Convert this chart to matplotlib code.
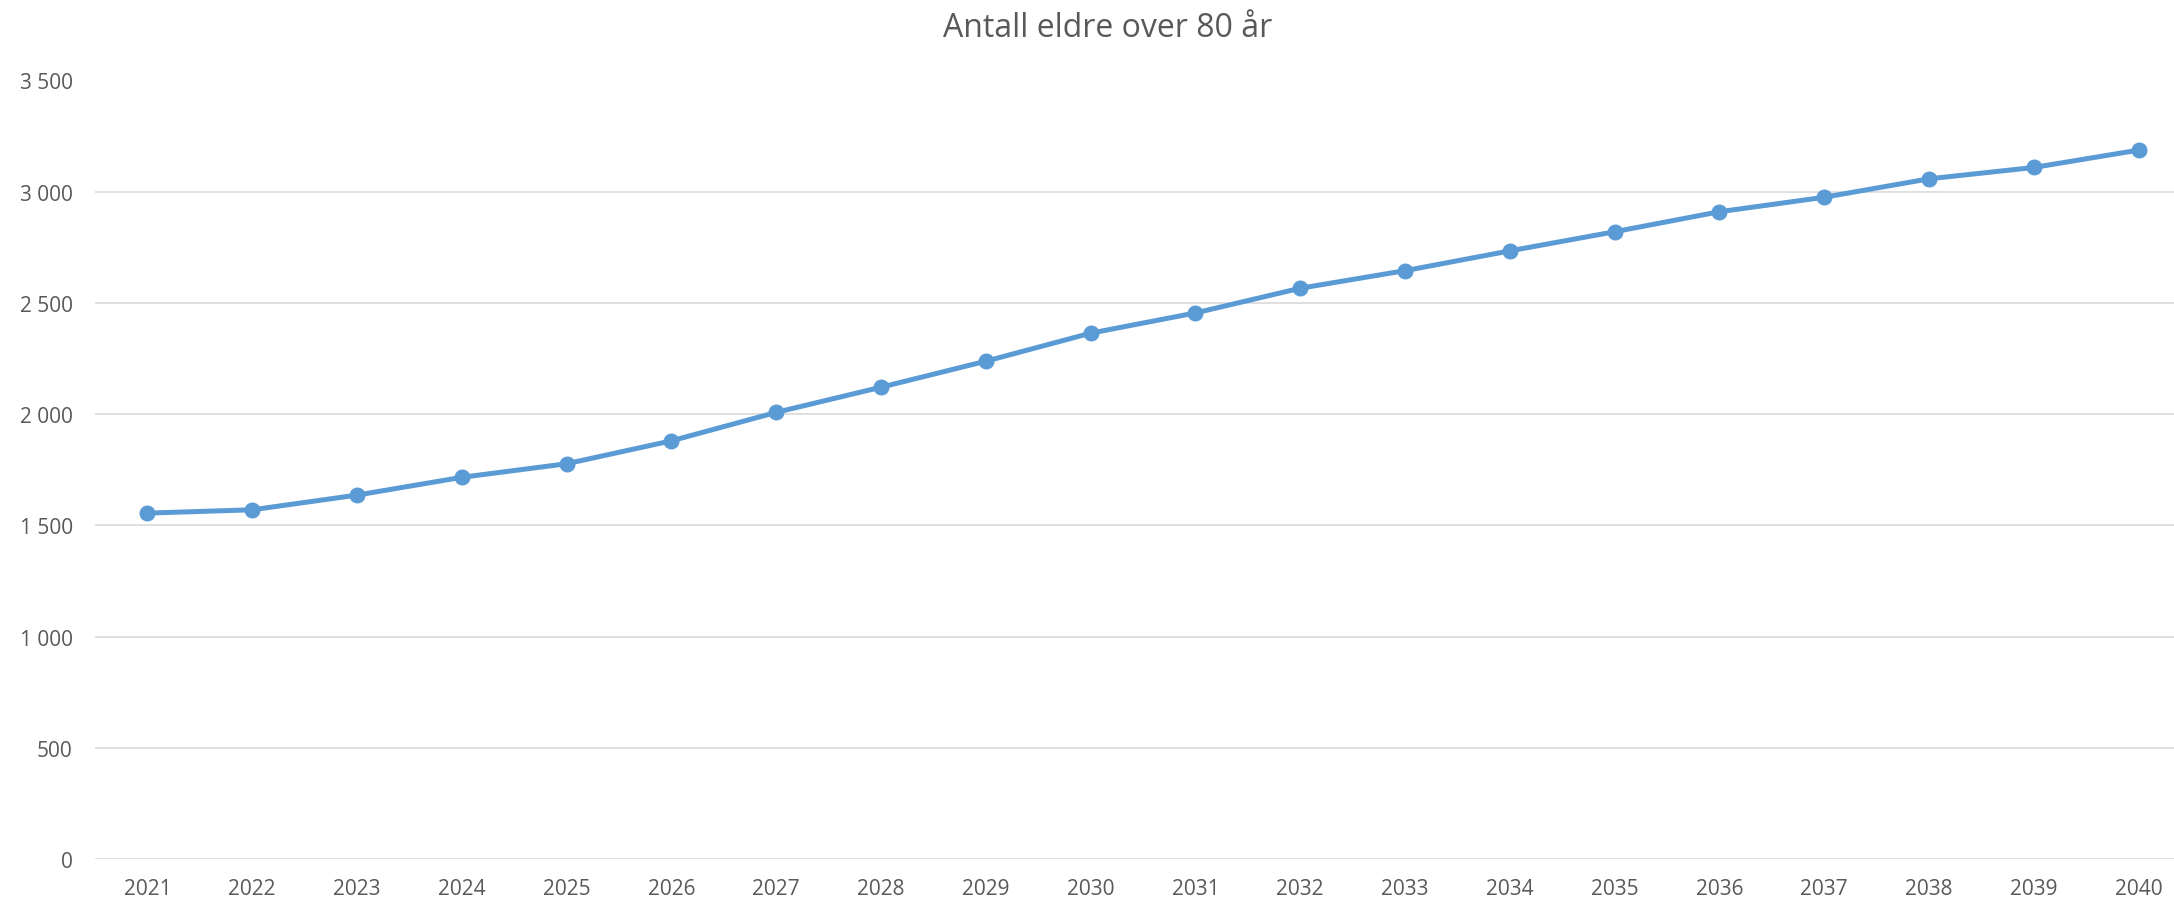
import matplotlib
matplotlib.use("Agg")
import matplotlib.pyplot as plt
from matplotlib.ticker import FuncFormatter, MultipleLocator

years = [str(y) for y in range(2021, 2041)]
values = [1555, 1570, 1636, 1716, 1777, 1880, 2008, 2121, 2238, 2364,
          2455, 2566, 2645, 2734, 2820, 2910, 2975, 3058, 3109, 3187]
title = "Antall eldre over 80 år"

plt.rcParams['font.family'] = ['Open Sans', 'DejaVu Sans']
text_color = "#595959"
grid_color = "#D9D9D9"
line_color = "#5B9BD5"

fig = plt.figure(figsize=(21.74, 9.03), dpi=100)
ax = fig.add_axes([95/2174, 43/903, (2191-95)/2174, (860-81.5)/903])

x = list(range(len(years)))
ax.plot(x, values, color=line_color, linewidth=3.6, marker='o',
        markersize=10.5, markerfacecolor=line_color, markeredgecolor=line_color,
        solid_capstyle='round', zorder=3, clip_on=False)

ax.set_xlim(-0.5, len(years) - 0.5)
ax.set_ylim(0, 3500)
ax.yaxis.set_major_locator(MultipleLocator(500))
ax.yaxis.set_major_formatter(FuncFormatter(lambda v, p: f"{int(v):,}".replace(",", " ")))
ax.set_xticks(x)
ax.set_xticklabels(years)

ax.grid(axis='y', color=grid_color, linewidth=1.2)
ax.set_axisbelow(True)
for s in ax.spines.values():
    s.set_visible(False)
ax.tick_params(axis='both', length=0, labelsize=15, labelcolor=text_color)
ax.tick_params(axis='y', pad=16)
ax.tick_params(axis='x', pad=13.5)

fig.text(1108/2174, 1 - 37/903, title, ha='center', va='baseline',
         fontsize=23, color=text_color)

fig.savefig("out.png", dpi=100, facecolor='white')
